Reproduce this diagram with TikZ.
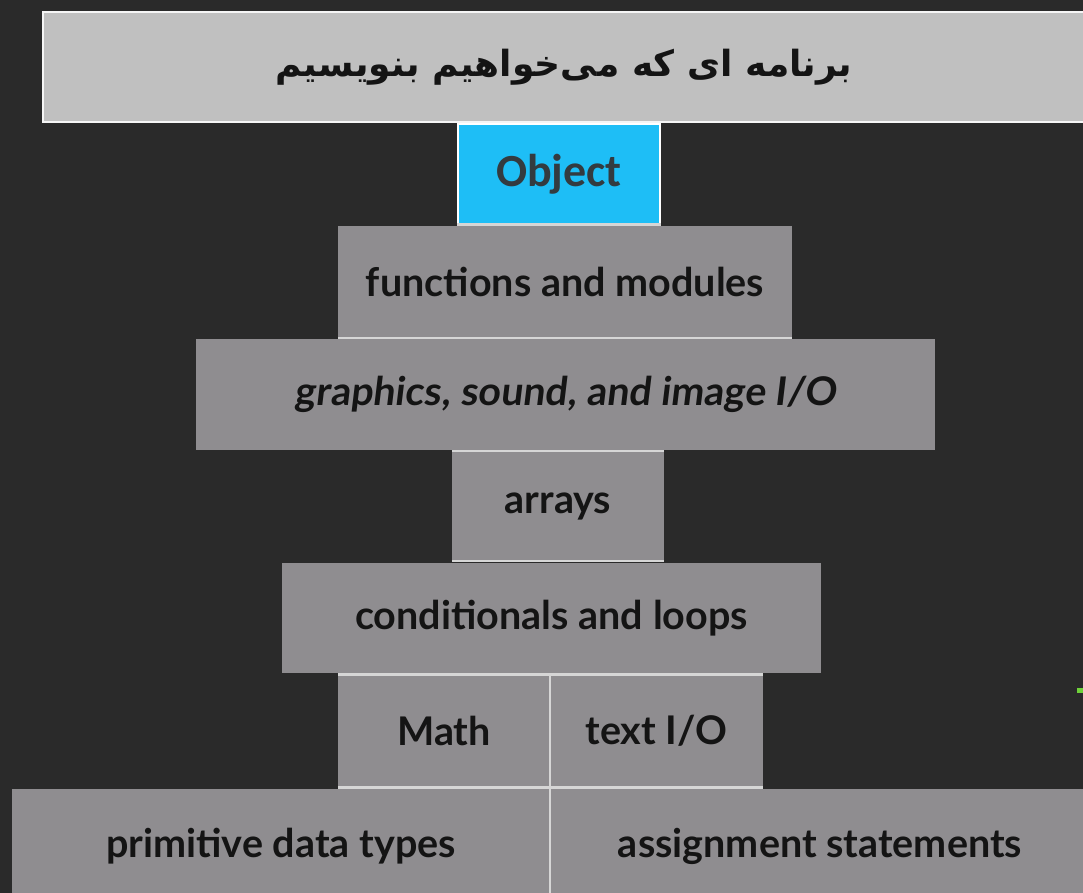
\documentclass[tikz,border=0pt]{standalone}
\usepackage{fontspec}
\setmainfont{Lato}
\newfontfamily\arabicfont[Script=Arabic]{DejaVu Sans}
\newfontfamily\objfont{Carlito}
\newfontfamily\slantfont[FakeSlant=0.12]{Lato}
\TeXXeTstate=1
\definecolor{bg}{HTML}{2A2A2A}
\definecolor{banner}{HTML}{C0C0C0}
\definecolor{graybox}{HTML}{8F8D90}
\definecolor{objblue}{HTML}{1EBEF6}
\definecolor{sepline}{HTML}{D6D6D6}
\definecolor{darktext}{HTML}{141414}
\definecolor{objtext}{HTML}{333B40}
\definecolor{dotgreen}{HTML}{6FD23A}
\tikzset{
  layer/.style={rectangle, fill=graybox, draw=none, inner sep=0pt, text=darktext,
    font=\bfseries\fontsize{39.5}{44}\selectfont},
  sep/.style={draw=sepline, line width=2.5pt},
}
\begin{document}
\begin{tikzpicture}[x=1pt,y=-1pt]
\fill[bg] (0,0) rectangle (1083,893);
\useasboundingbox (0,0) rectangle (1083,893);
% banner
\node[rectangle, fill=banner, draw=white!92!gray, line width=2pt, inner sep=0pt,
  minimum width=1042pt, minimum height=110pt] (banner) at (564,67)
  {\arabicfont\bfseries\fontsize{36}{40}\selectfont\color{darktext}\beginR برنامه ای که می‌خواهیم بنویسیم\endR};
% object
\node[rectangle, fill=objblue, draw=white, line width=1.5pt, inner sep=0pt,
  minimum width=202pt, minimum height=100pt, text=objtext,
  font=\objfont\bfseries\fontsize{46}{50}\selectfont] (obj) at (559,174) {Object};
% layers
\node[layer, minimum width=454pt, minimum height=112pt] (fm) at (565,282) {functions and modules};
\node[layer, minimum width=739pt, minimum height=111pt] (gfx) at (565.5,394) {\slantfont\bfseries graphics, sound, and image I/O};
\node[layer, minimum width=212pt, minimum height=110pt] (arr) at (558,506) {arrays};
\node[layer, minimum width=539pt, minimum height=110pt] (cond) at (551.5,618) {conditionals and loops};
\node[layer, minimum width=212pt, minimum height=113pt] (math) at (444,731) {Math};
\node[layer, minimum width=213pt, minimum height=113pt] (tio) at (656.5,731) {text I/O};
\node[layer, minimum width=538pt, minimum height=115pt] (prim) at (281,846) {primitive data types};
\node[layer, minimum width=540pt, minimum height=115pt] (asg) at (820,846) {assignment statements};
% separator lines
\draw[sep] (obj.south west) -- (obj.south east);
\draw[sep] (fm.south west) -- (fm.south east);
\draw[sep] (arr.north west) -- (arr.north east);
\draw[sep] (arr.south west) -- (arr.south east);
\draw[sep] (math.north west) -- (tio.north east);
\draw[sep] (math.south west) -- (tio.south east);
\draw[draw=sepline, line width=2pt] (math.north east) -- (prim.south east);
% stray dot
\fill[dotgreen] (1077,687.5) rectangle (1083,692.5);
\end{tikzpicture}
\end{document}
